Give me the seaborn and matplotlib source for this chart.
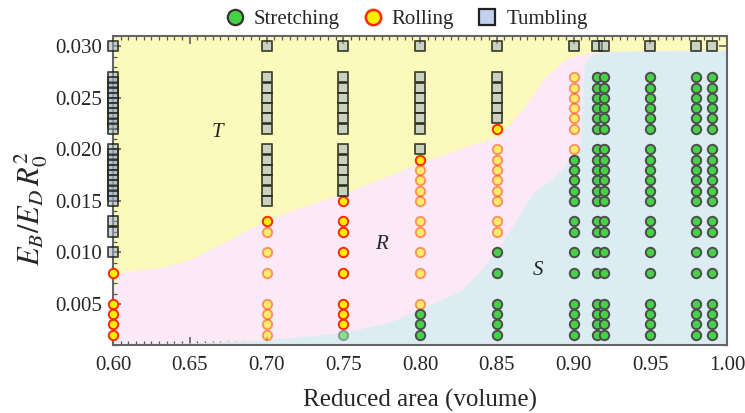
import numpy as np
import pandas as pd
import seaborn as sns
import matplotlib.pyplot as plt
from matplotlib.lines import Line2D
from matplotlib.ticker import MultipleLocator, FormatStrFormatter

# E_B / (E_D R0^2) values tested at every reduced area, split by observed regime
tumbling_060 = [0.030, 0.0270, 0.0265, 0.0260, 0.0255, 0.0250, 0.0245, 0.0240, 0.0235, 0.0230, 0.0225, 0.0220,
                0.0200, 0.0195, 0.0190, 0.0185, 0.0180, 0.0175, 0.0170, 0.0165, 0.0160, 0.0155, 0.0150,
                0.013, 0.012, 0.010]
rolling_060 = [0.008, 0.005, 0.004, 0.003, 0.002]

tumbling_070 = [0.030, 0.027, 0.026, 0.025, 0.024, 0.023, 0.022, 0.020, 0.019, 0.018, 0.017, 0.016, 0.015]
rolling_070 = [0.013, 0.012, 0.010, 0.008, 0.005, 0.004, 0.003, 0.002]

tumbling_075 = [0.030, 0.027, 0.026, 0.025, 0.024, 0.023, 0.022, 0.020, 0.019, 0.018, 0.017, 0.016]
rolling_075 = [0.015, 0.013, 0.012, 0.010, 0.008, 0.005, 0.004, 0.003]
stretching_075 = [0.002]

tumbling_080 = [0.030, 0.027, 0.026, 0.025, 0.024, 0.023, 0.022, 0.020]
rolling_080 = [0.019, 0.018, 0.017, 0.016, 0.015, 0.013, 0.012, 0.010, 0.008, 0.005]
stretching_080 = [0.004, 0.003, 0.002]

tumbling_085 = [0.030, 0.027, 0.026, 0.025, 0.024, 0.023]
rolling_085 = [0.022, 0.020, 0.019, 0.018, 0.017, 0.016, 0.015, 0.013, 0.012]
stretching_085 = [0.010, 0.008, 0.005, 0.004, 0.003, 0.002]

tumbling_090 = [0.030]
rolling_090 = [0.027, 0.026, 0.025, 0.024, 0.023, 0.022, 0.020]
stretching_090 = [0.019, 0.018, 0.017, 0.016, 0.015, 0.013, 0.012, 0.010, 0.008, 0.005, 0.004, 0.003, 0.002]

# columns near sphere: only the top value tumbles
high_area = [0.915, 0.92, 0.95, 0.98, 0.99]
tumbling_high = [0.030]
stretching_high = [0.027, 0.026, 0.025, 0.024, 0.023, 0.022, 0.020, 0.019, 0.018, 0.017, 0.016, 0.015,
                   0.013, 0.012, 0.010, 0.008, 0.005, 0.004, 0.003, 0.002]

# phase boundaries (upper edge of the R and S regions)
r_edge_x = [0.600, 0.604, 0.615, 0.630, 0.650, 0.670, 0.690, 0.700, 0.720, 0.750, 0.775, 0.800,
            0.830, 0.852, 0.870, 0.880, 0.895, 0.910, 0.950, 1.000]
r_edge_y = [0.0062, 0.0080, 0.0083, 0.0085, 0.0093, 0.0108, 0.0124, 0.0131, 0.0143, 0.0157, 0.0172, 0.0187,
            0.0203, 0.0213, 0.0245, 0.0268, 0.0288, 0.0294, 0.0296, 0.0297]
s_edge_x = [0.600, 0.650, 0.700, 0.750, 0.780, 0.800, 0.826, 0.837, 0.851, 0.860, 0.874, 0.885, 0.895,
            0.900, 0.904, 0.907, 0.912, 0.920, 1.000]
s_edge_y = [0.0011, 0.0012, 0.0015, 0.0022, 0.0032, 0.0045, 0.0062, 0.0078, 0.0104, 0.0125, 0.0158, 0.0170,
            0.0185, 0.0195, 0.0200, 0.0282, 0.0292, 0.0295, 0.0296]


def build_frame():
    columns = [
        (0.60, {'Tumbling': tumbling_060, 'Rolling': rolling_060}),
        (0.70, {'Tumbling': tumbling_070, 'Rolling': rolling_070}),
        (0.75, {'Tumbling': tumbling_075, 'Rolling': rolling_075, 'Stretching': stretching_075}),
        (0.80, {'Tumbling': tumbling_080, 'Rolling': rolling_080, 'Stretching': stretching_080}),
        (0.85, {'Tumbling': tumbling_085, 'Rolling': rolling_085, 'Stretching': stretching_085}),
        (0.90, {'Tumbling': tumbling_090, 'Rolling': rolling_090, 'Stretching': stretching_090}),
    ]
    for a in high_area:
        columns.append((a, {'Tumbling': tumbling_high, 'Stretching': stretching_high}))

    rows = []
    for area, groups in columns:
        for regime, ys in groups.items():
            for y in ys:
                rows.append((area, y, regime))
    df = pd.DataFrame(rows, columns=['area', 'energy', 'regime'])

    # some points are drawn solid, the rest faded
    roll = df['regime'] == 'Rolling'
    top = df[roll].groupby('area')['energy'].transform('max')
    df['solid'] = True
    df.loc[roll, 'solid'] = df.loc[roll, 'area'].isin([0.60, 0.75]) | \
        ((df.loc[roll, 'energy'] == top) & (df.loc[roll, 'area'] < 0.9))
    df.loc[(df['regime'] == 'Stretching') & (df['area'] == 0.75), 'solid'] = False
    return df


def main():
    df = build_frame()

    sns.set_style("ticks")
    plt.rcParams['font.family'] = ['Liberation Serif', 'DejaVu Serif']
    plt.rcParams['mathtext.fontset'] = 'stix'

    fig = plt.figure(figsize=(7.45, 4.13), dpi=100)
    ax = fig.add_axes([0.1517, 0.1646, 0.8242, 0.7482])

    # background phase regions
    ax.set_facecolor('#fcfabb')
    xx = np.linspace(0.6, 1.0, 1601)
    ax.fill_between(xx, 0, np.interp(xx, r_edge_x, r_edge_y), color='#fbe9f5', lw=0, zorder=0.5)
    ax.fill_between(xx, 0, np.interp(xx, s_edge_x, s_edge_y), color='#dbedf3', lw=0, zorder=0.6)

    styles = {
        'Stretching': dict(marker='o', fc='#46d246', ec='#4d4d4d'),
        'Rolling': dict(marker='o', fc='#ffee00', ec='#ff2a00'),
        'Tumbling': dict(marker='s', fc='#98acc4', ec='#1e1e10'),
    }
    for (regime, solid), sub in df.groupby(['regime', 'solid']):
        st = styles[regime]
        fa = 0.5 if regime == 'Tumbling' else (1.0 if solid else 0.55)
        ea = 0.75 if regime == 'Tumbling' else (1.0 if solid else 0.45)
        fc = plt.matplotlib.colors.to_rgba(st['fc'], fa)
        ec = plt.matplotlib.colors.to_rgba(st['ec'], ea)
        sns.scatterplot(data=sub, x='area', y='energy', marker=st['marker'], s=46,
                        color=fc, edgecolor=ec, linewidth=1.4, ax=ax, zorder=3, clip_on=False)

    # region labels
    for lab, x, y in [('T', 0.668, 0.0216), ('R', 0.775, 0.0108), ('S', 0.877, 0.0082)]:
        ax.text(x, y, lab, fontsize=15, style='italic', ha='center', va='center')

    ax.set_xlim(0.60, 1.00)
    ax.set_ylim(0.0010, 0.0310)
    ax.xaxis.set_major_locator(MultipleLocator(0.05))
    ax.xaxis.set_minor_locator(MultipleLocator(0.005))
    ax.yaxis.set_major_locator(MultipleLocator(0.005))
    ax.yaxis.set_minor_locator(MultipleLocator(0.001))
    ax.xaxis.set_major_formatter(FormatStrFormatter('%.2f'))
    ax.yaxis.set_major_formatter(FormatStrFormatter('%.3f'))
    ax.tick_params(which='both', direction='in', top=True, right=True, color='#555555', labelsize=15)
    ax.tick_params(which='major', length=6, width=1.1, pad=8)
    ax.tick_params(which='minor', length=3, width=0.9)
    for sp in ax.spines.values():
        sp.set_color('#666666')
        sp.set_linewidth(1.5)

    ax.set_xlabel('Reduced area (volume)', fontsize=18, labelpad=10)
    ax.set_ylabel(r'$E_B/E_D\,R_0^2$', fontsize=22)
    ax.yaxis.set_label_coords(-0.103, 0.44)

    handles = [
        Line2D([], [], ls='', marker='o', ms=11, mfc='#46d246', mec='#333333', mew=1.6),
        Line2D([], [], ls='', marker='o', ms=11, mfc='#ffee00', mec='#ff2a00', mew=1.8),
        Line2D([], [], ls='', marker='s', ms=11, mfc='#c3d2ec', mec='#222222', mew=1.6),
    ]
    fig.legend(handles, ['Stretching', 'Rolling', 'Tumbling'], loc='center', bbox_to_anchor=(0.545, 0.953),
               ncol=3, frameon=False, fontsize=15, handlelength=1.0, handletextpad=0.4, columnspacing=1.1)

    fig.savefig('out.png', dpi=100)


if __name__ == "__main__":
    main()
